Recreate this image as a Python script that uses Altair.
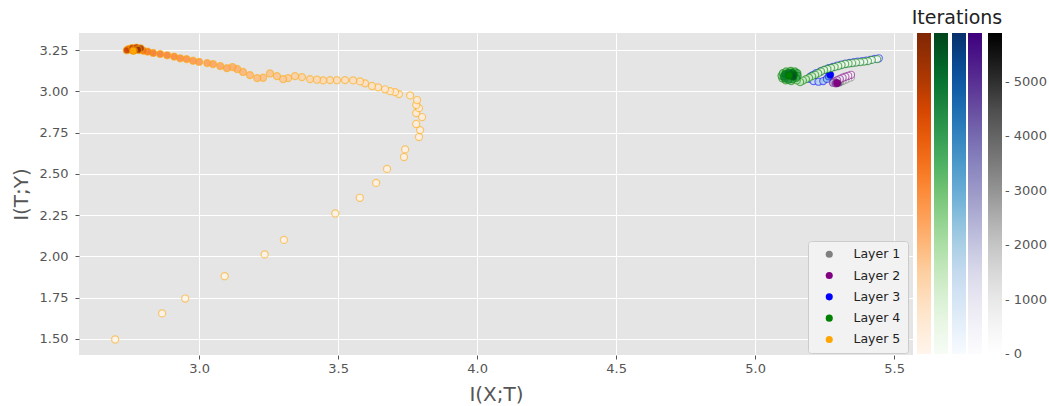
import altair as alt
import pandas as pd

FONT = "DejaVu Sans"

layer_names = ["Layer 1", "Layer 2", "Layer 3", "Layer 4", "Layer 5"]
layer_colors = ["#808080", "#800080", "#0000ff", "#008000", "#ffa500"]
# matplotlib colormaps (ColorBrewer 9-class) for Greys, Purples, Blues, Greens, Oranges
layer_cmaps = [
    ["#ffffff", "#f0f0f0", "#d9d9d9", "#bdbdbd", "#969696", "#737373", "#525252", "#252525", "#000000"],
    ["#fcfbfd", "#efedf5", "#dadaeb", "#bcbddc", "#9e9ac8", "#807dba", "#6a51a3", "#54278f", "#3f007d"],
    ["#f7fbff", "#deebf7", "#c6dbef", "#9ecae1", "#6baed6", "#4292c6", "#2171b5", "#08519c", "#08306b"],
    ["#f7fcf5", "#e5f5e0", "#c7e9c0", "#a1d99b", "#74c476", "#41ab5d", "#238b45", "#006d2c", "#00441b"],
    ["#fff5eb", "#fee6ce", "#fdd0a2", "#fdae6b", "#fd8d3c", "#f16913", "#d94801", "#a63603", "#7f2704"],
]

# Layer 1 (grey)
l1_x = [5.345, 5.335, 5.325, 5.315, 5.305, 5.30]
l1_y = [3.085, 3.078, 3.070, 3.062, 3.055, 3.052]
l1_it = [0, 300, 800, 1500, 2500, 5900]

# Layer 2 (purple)
l2_x = [5.345, 5.335, 5.325, 5.315, 5.305, 5.295, 5.285, 5.28, 5.29, 5.295]
l2_y = [3.100, 3.094, 3.088, 3.082, 3.075, 3.068, 3.060, 3.052, 3.048, 3.050]
l2_it = [0, 150, 350, 600, 900, 1300, 1900, 2600, 3500, 5900]

# Layer 3 (blue)
l3_x = [5.445, 5.43, 5.415, 5.40, 5.385, 5.37, 5.355, 5.34, 5.325, 5.31, 5.295, 5.28,
        5.265, 5.25, 5.235, 5.22, 5.21, 5.20, 5.195, 5.21, 5.228, 5.245, 5.258, 5.265, 5.27]
l3_y = [3.200, 3.196, 3.190, 3.186, 3.183, 3.180, 3.176, 3.172, 3.168, 3.162, 3.156, 3.148,
        3.140, 3.130, 3.120, 3.110, 3.100, 3.090, 3.075, 3.062, 3.058, 3.062, 3.075, 3.090, 3.100]
l3_it = [0, 30, 70, 110, 150, 200, 250, 300, 360, 420, 500, 600,
         700, 800, 900, 1000, 1100, 1200, 1300, 1500, 1700, 2000, 2400, 3000, 5900]

# Layer 4 (green)
l4_x = [5.439, 5.42, 5.406, 5.392, 5.378, 5.363, 5.349, 5.336, 5.324, 5.311, 5.299, 5.286,
        5.273, 5.26, 5.248, 5.237, 5.227, 5.216, 5.205, 5.194, 5.183, 5.172, 5.162,
        5.15, 5.13, 5.11, 5.098, 5.095, 5.10, 5.112, 5.128, 5.143, 5.152, 5.153, 5.148,
        5.135, 5.12, 5.107, 5.103, 5.108, 5.12, 5.133, 5.14, 5.137, 5.122]
l4_y = [3.195, 3.190, 3.183, 3.180, 3.177, 3.174, 3.171, 3.168, 3.165, 3.159, 3.153, 3.147,
        3.141, 3.135, 3.129, 3.120, 3.110, 3.100, 3.092, 3.083, 3.074, 3.065, 3.056,
        3.066, 3.062, 3.066, 3.078, 3.094, 3.110, 3.120, 3.124, 3.120, 3.110, 3.094, 3.080,
        3.072, 3.070, 3.077, 3.090, 3.104, 3.112, 3.112, 3.102, 3.088, 3.095]
l4_it = [0, 20, 50, 80, 120, 160, 200, 250, 300, 350, 400, 460,
         520, 600, 700, 800, 900, 1000, 1100, 1200, 1300, 1400, 1500,
         1700, 1900, 2100, 2300, 2500, 2700, 2900, 3100, 3300, 3500, 3700, 3900,
         4100, 4300, 4500, 4700, 4900, 5100, 5300, 5500, 5700, 5900]

# Layer 5 (orange)
l5_x = [2.698, 2.867, 2.95, 3.092, 3.236, 3.305, 3.49, 3.578, 3.637, 3.676, 3.737, 3.741,
        3.791, 3.795, 3.781, 3.802, 3.781, 3.791, 3.781, 3.784, 3.759, 3.719, 3.705, 3.687,
        3.669, 3.644, 3.622, 3.597, 3.579, 3.554, 3.525, 3.496, 3.471, 3.446, 3.424,
        3.399, 3.37, 3.345, 3.32, 3.302, 3.28, 3.255, 3.23, 3.209, 3.183, 3.158, 3.137,
        3.12, 3.10, 3.076, 3.05, 3.029, 3.00, 2.978, 2.955, 2.932, 2.91, 2.885, 2.86,
        2.835, 2.815, 2.80, 2.785, 2.77, 2.755, 2.745, 2.74, 2.76, 2.775, 2.79, 2.78,
        2.765, 2.763]
l5_y = [1.497, 1.655, 1.745, 1.880, 2.012, 2.100, 2.260, 2.355, 2.445, 2.530, 2.602, 2.648,
        2.723, 2.765, 2.802, 2.844, 2.868, 2.898, 2.917, 2.947, 2.975, 2.983, 2.995, 3.001,
        3.012, 3.024, 3.032, 3.048, 3.060, 3.066, 3.068, 3.067, 3.068, 3.066, 3.070,
        3.074, 3.086, 3.092, 3.080, 3.074, 3.092, 3.108, 3.082, 3.080, 3.098, 3.117, 3.135,
        3.147, 3.140, 3.153, 3.165, 3.171, 3.178, 3.185, 3.195, 3.200, 3.210, 3.218, 3.226,
        3.232, 3.240, 3.245, 3.250, 3.255, 3.258, 3.255, 3.248, 3.262, 3.265, 3.260, 3.252,
        3.248, 3.245]
l5_it = [0, 10, 20, 40, 60, 80, 100, 120, 140, 160, 180, 200,
         240, 280, 320, 360, 400, 440, 480, 520, 560, 600, 650, 700,
         750, 800, 850, 900, 950, 1000, 1050, 1100, 1150, 1200, 1250,
         1300, 1380, 1460, 1540, 1620, 1700, 1780, 1860, 1940, 2020, 2100, 2180,
         2260, 2340, 2420, 2500, 2600, 2700, 2800, 2900, 3000, 3100, 3200, 3300,
         3400, 3500, 3600, 3800, 4000, 4200, 4400, 4600, 4800, 5000, 5200, 5400,
         5600, 5900]

iter_max = 5900
cbar_ticks = [0, 1000, 2000, 3000, 4000, 5000]
x_ticks = [3.0, 3.5, 4.0, 4.5, 5.0, 5.5]
y_ticks = [1.5, 1.75, 2.0, 2.25, 2.5, 2.75, 3.0, 3.25]

layers_data = [(l1_x, l1_y, l1_it), (l2_x, l2_y, l2_it), (l3_x, l3_y, l3_it),
               (l4_x, l4_y, l4_it), (l5_x, l5_y, l5_it)]

# colour stops spread evenly over the iteration range (scale configuration);
# the lowest stop sits a hair below 0 so the "0" colorbar label is centred on its tick
cmap_domain = [-1] + [iter_max * k / 8 for k in range(1, 9)]

W, H = 834, 322
PAD_L, PAD_T = 79, 33

x_scale = alt.Scale(domain=[2.568, 5.568], nice=False, zero=False)
y_scale = alt.Scale(domain=[1.403, 3.353], nice=False, zero=False)
x_enc = alt.X("x:Q", scale=x_scale, title="I(X;T)",
              axis=alt.Axis(values=x_ticks, format=".1f", titleY=29, titleBaseline="top"))
y_enc = alt.Y("y:Q", scale=y_scale, title="I(T;Y)",
              axis=alt.Axis(values=y_ticks, format=".2f", titleX=-58, titleBaseline="middle"))

# colorbar positions (left to right): oranges, greens, blues, purples, greys
cbar_x = {4: 838, 3: 855, 2: 873, 1: 889, 0: 909}

charts = []
for i, (xs, ys, its) in enumerate(layers_data):
    df = pd.DataFrame({"x": xs, "y": ys, "it": its})
    common = dict(orient="none", legendX=cbar_x[i], legendY=0, direction="vertical",
                  gradientLength=321, gradientThickness=14, gradientStrokeWidth=0,
                  gradientOpacity=1, title=None, padding=0)
    if i == 0:
        leg = alt.Legend(values=cbar_ticks, labelExpr="'- ' + datum.value",
                         labelFont=FONT, labelFontSize=13, labelColor="#555555",
                         labelOffset=3, labelOverlap=False, labelBaseline="middle",
                         labelOpacity=1, **common)
    else:
        leg = alt.Legend(labelExpr="''", **common)
    traj = alt.Chart(df).mark_circle(
        size=50, stroke=layer_colors[i], strokeWidth=1.2, strokeOpacity=0.55, fillOpacity=0.85
    ).encode(
        x=x_enc, y=y_enc,
        fill=alt.Fill("it:Q",
                      scale=alt.Scale(domain=cmap_domain, range=layer_cmaps[i],
                                      interpolate="rgb"),
                      legend=leg),
    )
    last = pd.DataFrame({"x": [xs[-1]], "y": [ys[-1]]})
    final = alt.Chart(last).mark_circle(size=45, opacity=1, color=layer_colors[i]).encode(
        x=x_enc, y=y_enc)
    charts += [traj, final]

leg_df = pd.DataFrame({"x": [d[0][-1] for d in layers_data],
                       "y": [d[1][-1] for d in layers_data],
                       "layer": layer_names})
legend_layer = alt.Chart(leg_df).mark_circle(size=45, opacity=0).encode(
    x=x_enc, y=y_enc,
    fill=alt.Fill("layer:N", scale=alt.Scale(domain=layer_names, range=layer_colors),
                  legend=alt.Legend(orient="none", legendX=729, legendY=208, title=None,
                                    symbolType="circle", symbolSize=50, symbolOpacity=1,
                                    symbolStrokeWidth=0, symbolOffset=8,
                                    labelFont=FONT, labelFontSize=12.5, labelColor="#222222",
                                    labelOffset=18, rowPadding=8.3, padding=7,
                                    fillColor="#f2f2f2", strokeColor="#cccccc",
                                    cornerRadius=3)),
)
charts.append(legend_layer)

title_df = pd.DataFrame({"t": ["Iterations"]})
title_text = alt.Chart(title_df).mark_text(
    font=FONT, fontSize=19, align="center", baseline="alphabetic", color="#222222"
).encode(text="t:N", x=alt.value(878), y=alt.value(-9))
charts.append(title_text)

chart = alt.layer(*charts).resolve_scale(fill="independent").properties(
    width=W, height=H,
    autosize=alt.AutoSizeParams(type="none"),
    padding={"left": PAD_L, "top": PAD_T, "right": 1049 - PAD_L - W, "bottom": 406 - PAD_T - H},
    background="white",
).configure_view(
    fill="#e5e5e5", stroke=None
).configure_axis(
    grid=True, gridColor="white", gridWidth=1, domain=False,
    tickColor="#555555", tickSize=4, tickWidth=1,
    labelFont=FONT, labelFontSize=13, labelColor="#555555",
    titleFont=FONT, titleFontSize=20, titleColor="#555555", titleFontWeight="normal",
).configure_axisX(labelPadding=3).configure_axisY(labelPadding=7)

chart.save("out.html", embed_options={"renderer": "svg", "actions": False})
